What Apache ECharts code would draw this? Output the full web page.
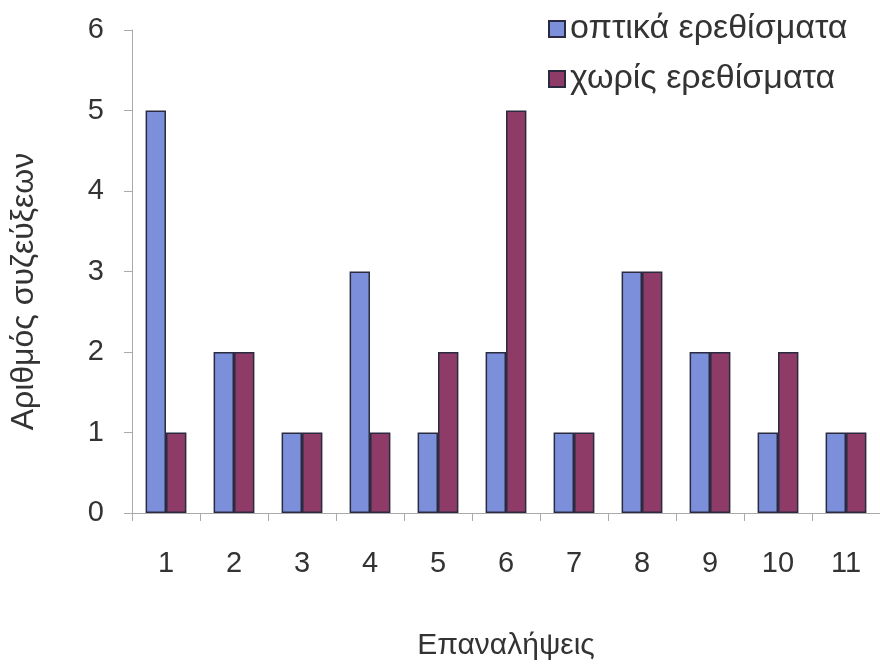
<!DOCTYPE html>
<html>
<head>
<meta charset="utf-8">
<script src="https://cdn.jsdelivr.net/npm/echarts@6/dist/echarts.min.js"></script>
<style>html,body{margin:0;padding:0;background:#fff;overflow:hidden}#c{width:880px;height:666px}</style>
</head>
<body>
<div id="c"></div>
<script>
const categories = ['1','2','3','4','5','6','7','8','9','10','11'];
const visualStim = [5,2,1,3,1,2,1,3,2,1,1];
const noStim = [1,2,1,1,2,5,1,3,2,2,1];
const seriesNames = ['οπτικά ερεθίσματα','χωρίς ερεθίσματα'];

const chart = echarts.init(document.getElementById('c'), null, {renderer:'canvas', width:880, height:666});
const font = 'Liberation Sans, Arial, sans-serif';
chart.setOption({
  animation:false,
  backgroundColor:'#fff',
  grid:{left:130, width:750, top:30, height:485, containLabel:false},
  legend:{
    orient:'vertical', left:543, top:7, itemGap:16,
    itemWidth:16, itemHeight:16, icon:'rect',
    textStyle:{fontFamily:font, fontSize:34, color:'#333'},
    data:seriesNames
  },
  xAxis:{
    type:'category', data:categories,
    name:'Επαναλήψεις', nameLocation:'middle', nameGap:118,
    nameTextStyle:{fontFamily:font, fontSize:30, color:'#333'},
    axisLine:{lineStyle:{color:'#aaa', width:1}},
    axisTick:{show:true, length:8, lineStyle:{color:'#aaa'}},
    axisLabel:{fontFamily:font, fontSize:29, color:'#333', margin:36}
  },
  yAxis:{
    type:'value', min:0, max:6, interval:1,
    name:'Αριθμός συζεύξεων', nameLocation:'middle', nameGap:92, nameRotate:90,
    nameTextStyle:{fontFamily:font, fontSize:32, color:'#333', padding:[0,40,0,0]},
    axisLine:{show:true, lineStyle:{color:'#aaa', width:1}},
    axisTick:{show:true, length:8, lineStyle:{color:'#aaa'}},
    splitLine:{show:false},
    axisLabel:{fontFamily:font, fontSize:29, color:'#333', margin:28}
  },
  series:[
    {name:seriesNames[0], type:'bar', data:visualStim, barGap:'0%', barCategoryGap:'40%',
     itemStyle:{color:'#7b8fdb', borderColor:'#2a2a40', borderWidth:1.5}},
    {name:seriesNames[1], type:'bar', data:noStim, barGap:'0%', barCategoryGap:'40%',
     itemStyle:{color:'#8f3b68', borderColor:'#2a2a40', borderWidth:1.5}}
  ]
});
</script>
</body>
</html>
